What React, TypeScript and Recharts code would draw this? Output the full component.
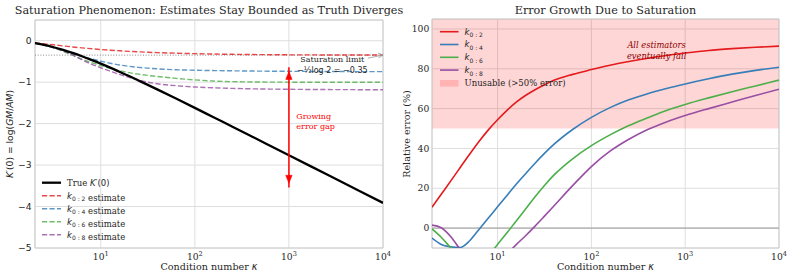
import React from 'react';
import {
  ComposedChart,
  Line,
  XAxis,
  YAxis,
  CartesianGrid,
  ReferenceLine,
  ReferenceArea,
  ReferenceDot,
} from 'recharts';

// ---------------- data ----------------
const kappa = [2, 2.51, 3.16, 3.98, 5.01, 6.31, 7.94, 10, 12.6, 15.8, 20, 25.1, 31.6, 39.8, 63.1, 100, 158, 251, 398, 631, 1000, 1778, 3162, 5623, 10000];

// left panel: true K'(0) and truncated estimates
const trueK = [-0.059, -0.1025, -0.1573, -0.2217, -0.2947, -0.3751, -0.4616, -0.5534, -0.6498, -0.7496, -0.8523, -0.9577, -1.0649, -1.1738, -1.395, -1.6194, -1.8461, -2.074, -2.3027, -2.5321, -2.7617, -3.0489, -3.3366, -3.6242, -3.9121];
const est02 = [-0.053, -0.075, -0.098, -0.125, -0.15, -0.172, -0.192, -0.212, -0.229, -0.243, -0.256, -0.268, -0.278, -0.287, -0.301, -0.312, -0.321, -0.328, -0.333, -0.337, -0.34, -0.342, -0.344, -0.345, -0.346];
const est04 = [-0.062, -0.111, -0.172, -0.243, -0.314, -0.378, -0.439, -0.494, -0.543, -0.584, -0.617, -0.643, -0.662, -0.677, -0.7, -0.712, -0.72, -0.726, -0.731, -0.735, -0.738, -0.741, -0.743, -0.745, -0.746];
const est06 = [-0.059, -0.107, -0.173, -0.255, -0.349, -0.448, -0.527, -0.599, -0.665, -0.722, -0.77, -0.807, -0.837, -0.862, -0.908, -0.945, -0.972, -0.987, -0.994, -0.998, -1.0, -1.002, -1.003, -1.003, -1.003];
const est08 = [-0.058, -0.102, -0.164, -0.245, -0.343, -0.458, -0.563, -0.652, -0.734, -0.812, -0.884, -0.948, -1.0, -1.038, -1.085, -1.115, -1.136, -1.15, -1.16, -1.167, -1.172, -1.176, -1.179, -1.181, -1.182];

// right panel: relative error (%)
const err02 = [10.5, 17.0, 23.6, 30.3, 37.0, 43.4, 49.2, 54.4, 59.1, 63.2, 66.7, 69.5, 72.0, 74.2, 77.2, 79.6, 81.8, 83.7, 85.3, 86.7, 87.9, 89.2, 90.1, 90.8, 91.4];
const err04 = [-5, -8.2, -9.4, -9.8, -6.5, -0.8, 4.9, 10.7, 16.4, 22.0, 27.4, 32.6, 37.5, 42.0, 49.5, 55.6, 60.5, 64.4, 67.5, 70.1, 72.4, 75.0, 77.3, 79.2, 80.8];
const err06 = [-0.4, -4.6, -9.9, -15.0, -18.5, -19.5, -14.2, -8.2, -2.4, 3.6, 9.7, 15.7, 21.4, 26.6, 34.8, 41.4, 46.8, 51.5, 55.4, 59.1, 62.1, 65.4, 68.5, 71.4, 74.3];
const err08 = [1.5, 0.2, -4.2, -10.6, -16.5, -21, -22, -17.8, -13.0, -8.3, -3.7, 1.0, 6.0, 11.1, 21.3, 30.9, 38.6, 44.6, 49.5, 53.3, 56.5, 60.0, 63.3, 66.6, 69.7];

const xTicks = [10, 100, 1000, 10000];
const leftYTicks = [-5, -4, -3, -2, -1, 0];
const rightYTicks = [0, 20, 40, 60, 80, 100];
const saturationLimit = -0.347;
const unusableThreshold = 50;
const gapArrow = { k: 1000, top: -0.74, bottom: -3.44 };

const seriesLabels = ['0 : 2', '0 : 4', '0 : 6', '0 : 8'];
const colors = ['#e41a1c', '#377eb8', '#4daf4a', '#984ea3'];

const leftData = kappa.map((k, i) => ({ k, t: trueK[i], e2: est02[i], e4: est04[i], e6: est06[i], e8: est08[i] }));
const rightData = kappa.map((k, i) => ({ k, r2: err02[i], r4: err04[i], r6: err06[i], r8: err08[i] }));

// ---------------- styles ----------------
const SERIF = 'DejaVu Serif';
const SANS = 'DejaVu Sans';
const TXT = '#262626';
const GRID = '#dedede';
const SPINE = '#cccccc';

const LogTick = (props: any) => {
  const { x, y, payload } = props;
  const exp = Math.round(Math.log10(payload.value));
  return (
    <text x={x} y={y + 12} textAnchor="middle" fontFamily={SERIF} fontSize={9.2} fill={TXT}>
      10<tspan dy={-4} fontSize={6.6}>{exp}</tspan>
    </text>
  );
};

const makeYTick = (font: string) => (props: any) => {
  const { x, y, payload } = props;
  const v = payload.value;
  const s = v < 0 ? '\u2212' + Math.abs(v) : String(v);
  return (
    <text x={x} y={y} dy="0.35em" textAnchor="end" fontFamily={font} fontSize={9.2} fill={TXT}>
      {s}
    </text>
  );
};
const LeftYTick = makeYTick(SANS);
const RightYTick = makeYTick(SERIF);

const textShape = (lines: { text: React.ReactNode; dy: number }[], opts: any) => (p: any) => (
  <g>
    {lines.map((l, i) => (
      <text key={i} x={p.cx} y={p.cy + l.dy} dy="0.35em" {...opts}>
        {l.text}
      </text>
    ))}
  </g>
);

const upHead = (color: string) => (p: any) => (
  <path d={`M${p.cx},${p.cy} L${p.cx - 3.2},${p.cy + 8} L${p.cx + 3.2},${p.cy + 8} Z`} fill={color} stroke={color} strokeWidth={0.5} />
);
const downHead = (color: string) => (p: any) => (
  <path d={`M${p.cx},${p.cy} L${p.cx - 3.2},${p.cy - 8} L${p.cx + 3.2},${p.cy - 8} Z`} fill={color} stroke={color} strokeWidth={0.5} />
);
const grayHead = (p: any) => (
  <path d={`M${p.cx - 5},${p.cy - 2.2} L${p.cx},${p.cy} L${p.cx - 4.4},${p.cy + 2.8}`} fill="none" stroke="#999" strokeWidth={0.8} />
);

const Kk = ({ sub }: { sub: string }) => (
  <>
    <tspan fontFamily={SANS} fontStyle="italic">k</tspan>
    <tspan fontFamily={SANS} fontSize={6} dy={2.5}>{sub}</tspan>
    <tspan dy={-2.5}>{''}</tspan>
  </>
);

const lineProps = { type: 'monotone' as const, dot: false, activeDot: false, isAnimationActive: false };

export default function App() {
  return (
    <div style={{ position: 'absolute', left: 0, top: 0, width: 793, height: 278, background: '#fff', overflow: 'hidden' }}>
      {/* Left panel */}
      <div style={{ position: 'absolute', left: 0, top: 0 }}>
        <ComposedChart width={400} height={278} data={leftData} margin={{ top: 20, right: 17, bottom: 0, left: 0 }}>
          <CartesianGrid stroke={GRID} strokeWidth={1} />
          <XAxis
            dataKey="k"
            type="number"
            scale="log"
            domain={[2, 10000]}
            allowDataOverflow
            ticks={xTicks}
            axisLine={false}
            tickLine={false}
            tickSize={0}
            tickMargin={0}
            height={30}
            tick={<LogTick />}
            interval={0}
          />
          <YAxis
            type="number"
            domain={[-5, 0.5]}
            allowDataOverflow
            ticks={leftYTicks}
            axisLine={false}
            tickLine={false}
            tickSize={0}
            tickMargin={3.5}
            width={35}
            tick={<LeftYTick />}
            interval={0}
          />
          <ReferenceLine y={saturationLimit} stroke="#888" strokeWidth={1} strokeDasharray="1 1.7" />
          <Line dataKey="e2" stroke={colors[0]} strokeOpacity={0.8} strokeWidth={1.4} strokeDasharray="5.2 2.3" {...lineProps} />
          <Line dataKey="e4" stroke={colors[1]} strokeOpacity={0.8} strokeWidth={1.4} strokeDasharray="5.2 2.3" {...lineProps} />
          <Line dataKey="e6" stroke={colors[2]} strokeOpacity={0.8} strokeWidth={1.4} strokeDasharray="5.2 2.3" {...lineProps} />
          <Line dataKey="e8" stroke={colors[3]} strokeOpacity={0.8} strokeWidth={1.4} strokeDasharray="5.2 2.3" {...lineProps} />
          <Line dataKey="t" stroke="#000" strokeWidth={2.3} {...lineProps} />
          <ReferenceLine segment={[{ x: gapArrow.k, y: gapArrow.top + 0.1 }, { x: gapArrow.k, y: gapArrow.bottom - 0.1 }]} stroke="#ff0000" strokeWidth={1.5} />
          <ReferenceDot x={gapArrow.k} y={gapArrow.top} shape={upHead('#ff0000')} />
          <ReferenceDot x={gapArrow.k} y={gapArrow.bottom} shape={downHead('#ff0000')} />
          <ReferenceDot
            x={1200}
            y={-1.83}
            shape={textShape(
              [
                { text: 'Growing', dy: 0 },
                { text: 'error gap', dy: 10 },
              ],
              { textAnchor: 'start', fontFamily: SERIF, fontSize: 8, fill: '#ff0000' }
            )}
          />
          <ReferenceLine segment={[{ x: 6900, y: -0.42 }, { x: 10000, y: saturationLimit }]} stroke="#999" strokeWidth={0.8} />
          <ReferenceDot x={10000} y={saturationLimit} shape={grayHead} ifOverflow="visible" />
          <ReferenceDot
            x={2890}
            y={-0.455}
            shape={textShape(
              [
                { text: 'Saturation limit', dy: 0 },
                { text: <tspan fontFamily={SANS}>{'\u2212\u00BDlog 2 = \u22120.35'}</tspan>, dy: 11 },
              ],
              { textAnchor: 'middle', fontFamily: SERIF, fontSize: 8, fill: TXT }
            )}
          />
          <ReferenceArea x1={2} x2={10000} y1={-5} y2={0.5} fill="none" fillOpacity={0} stroke={SPINE} strokeWidth={1} ifOverflow="visible" />
        </ComposedChart>
      </div>

      {/* Right panel */}
      <div style={{ position: 'absolute', left: 400, top: 0 }}>
        <ComposedChart width={393} height={278} data={rightData} margin={{ top: 19, right: 14, bottom: 0, left: 0 }}>
          <CartesianGrid stroke={GRID} strokeWidth={1} />
          <XAxis
            dataKey="k"
            type="number"
            scale="log"
            domain={[2, 10000]}
            allowDataOverflow
            ticks={xTicks}
            axisLine={false}
            tickLine={false}
            tickSize={0}
            tickMargin={0}
            height={30}
            tick={<LogTick />}
            interval={0}
          />
          <YAxis
            type="number"
            domain={[-10, 105]}
            allowDataOverflow
            ticks={rightYTicks}
            axisLine={false}
            tickLine={false}
            tickSize={0}
            tickMargin={2.7}
            width={32}
            tick={<RightYTick />}
            interval={0}
          />
          <ReferenceArea y1={unusableThreshold} y2={105} fill="#ff0000" fillOpacity={0.16} stroke="none" />
          <ReferenceLine y={0} stroke="#999" strokeWidth={1} />
          <Line dataKey="r2" stroke={colors[0]} strokeWidth={1.6} {...lineProps} />
          <Line dataKey="r4" stroke={colors[1]} strokeWidth={1.6} {...lineProps} />
          <Line dataKey="r6" stroke={colors[2]} strokeWidth={1.6} {...lineProps} />
          <Line dataKey="r8" stroke={colors[3]} strokeWidth={1.6} {...lineProps} />
          <ReferenceDot
            x={496}
            y={91.9}
            shape={textShape(
              [
                { text: 'All estimators', dy: 0 },
                { text: 'eventually fail', dy: 11 },
              ],
              { textAnchor: 'middle', fontFamily: SERIF, fontSize: 8.3, fontStyle: 'italic', fill: '#8b0000' }
            )}
          />
          <ReferenceArea x1={2} x2={10000} y1={-10} y2={105} fill="none" fillOpacity={0} stroke={SPINE} strokeWidth={1} ifOverflow="visible" />
        </ComposedChart>
      </div>

      {/* Titles, axis labels, legends */}
      <svg width={793} height={278} style={{ position: 'absolute', left: 0, top: 0, pointerEvents: 'none' }}>
        <text x={209} y={14} textAnchor="middle" fontFamily={SERIF} fontSize={11.2} fill={TXT}>
          Saturation Phenomenon: Estimates Stay Bounded as Truth Diverges
        </text>
        <text x={605.5} y={14} textAnchor="middle" fontFamily={SERIF} fontSize={11.2} fill={TXT}>
          Error Growth Due to Saturation
        </text>
        <text x={209} y={270} textAnchor="middle" fontFamily={SERIF} fontSize={9.6} fill={TXT}>
          Condition number <tspan fontFamily={SANS} fontStyle="italic">κ</tspan>
        </text>
        <text x={605.5} y={270} textAnchor="middle" fontFamily={SERIF} fontSize={9.6} fill={TXT}>
          Condition number <tspan fontFamily={SANS} fontStyle="italic">κ</tspan>
        </text>
        <text transform="translate(13,134) rotate(-90)" textAnchor="middle" fontFamily={SANS} fontSize={9.2} fill={TXT}>
          <tspan fontStyle="italic">K</tspan>′(0) = log(<tspan fontStyle="italic">GM</tspan>/<tspan fontStyle="italic">AM</tspan>)
        </text>
        <text transform="translate(410,134) rotate(-90)" textAnchor="middle" fontFamily={SERIF} fontSize={9.6} fill={TXT}>
          Relative error (%)
        </text>

        {/* left legend */}
        <g fontFamily={SERIF} fontSize={8.5} fill={TXT}>
          <line x1={42} x2={61} y1={182.7} y2={182.7} stroke="#000" strokeWidth={2.3} />
          <text x={67} y={182.7} dy="0.35em">
            True <tspan fontFamily={SANS} fontStyle="italic">K</tspan>
            <tspan fontFamily={SANS}>′(0)</tspan>
          </text>
          {seriesLabels.map((s, i) => (
            <g key={s}>
              <line x1={42} x2={61} y1={195.7 + 13 * i} y2={195.7 + 13 * i} stroke={colors[i]} strokeOpacity={0.8} strokeWidth={1.4} strokeDasharray="5.2 2.3" />
              <text x={67} y={195.7 + 13 * i} dy="0.35em">
                <Kk sub={s} /> estimate
              </text>
            </g>
          ))}
        </g>

        {/* right legend */}
        <g fontFamily={SERIF} fontSize={8.5} fill={TXT}>
          {seriesLabels.map((s, i) => (
            <g key={s}>
              <line x1={440} x2={458.5} y1={31.7 + 12.8 * i} y2={31.7 + 12.8 * i} stroke={colors[i]} strokeWidth={1.6} />
              <text x={464.5} y={31.7 + 12.8 * i} dy="0.35em">
                <Kk sub={s} />
              </text>
            </g>
          ))}
          <rect x={440} y={80} width={18.5} height={6.6} fill="#ff0000" fillOpacity={0.16} />
          <text x={464.5} y={83.3} dy="0.35em">Unusable (&gt;50% error)</text>
        </g>
      </svg>
    </div>
  );
}
